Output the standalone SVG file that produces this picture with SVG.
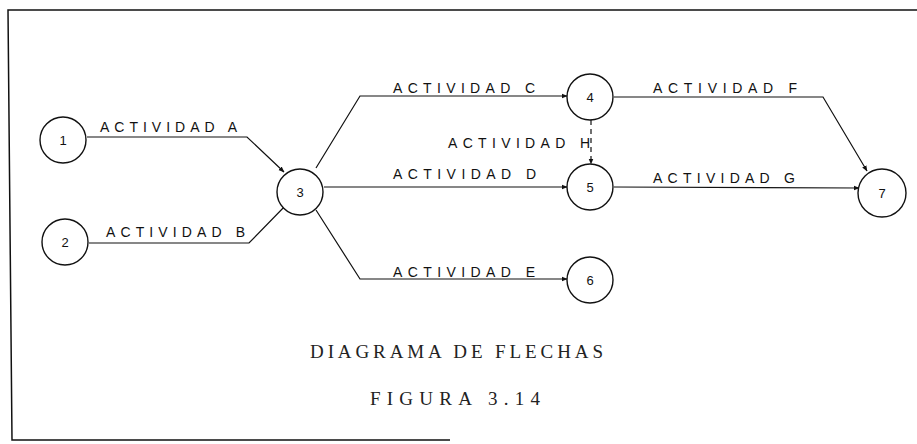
<svg xmlns="http://www.w3.org/2000/svg" width="917" height="444" viewBox="0 0 917 444">
<style>
.frame{fill:none;stroke:#111;stroke-width:1.5}
.node circle{fill:#fff;stroke:#111;stroke-width:1.4}
.node text{font-family:"Liberation Sans",Arial,sans-serif;font-size:13px;fill:#111;text-anchor:middle}
.edge{fill:none;stroke:#111;stroke-width:1.2;marker-end:url(#arr)}
.dash{stroke-dasharray:5 4}
.lbl{font-family:"Liberation Sans",Arial,sans-serif;font-size:14px;fill:#111}
.title{font-family:"Liberation Serif","Times New Roman",serif;font-size:19px;fill:#222}
</style>
<defs>
<marker id="arr" viewBox="0 0 10 10" refX="9" refY="5" markerWidth="6" markerHeight="6" markerUnits="userSpaceOnUse" orient="auto">
<path d="M0,1 L10,5 L0,9 z" fill="#111"/>
</marker>
</defs>
<g id="frame">
<path class="frame" d="M917,10 L8,10 L12,440 L450,440"/>
</g>
<g id="connectors">
<path class="edge" d="M87,137 L247,137 L284,172"/>
<path class="edge" d="M89,243 L249,243 L287,204"/>
<path class="edge" d="M316,168 L360,96 L567,96"/>
<path class="edge" d="M324,187 L567,187"/>
<path class="edge" d="M316,210 L360,279 L567,279"/>
<path class="edge" d="M614,97 L823,97 L867,171"/>
<path class="edge" d="M614,187 L859,188"/>
<path class="edge dash" d="M591,120 L591,164"/>
<text class="lbl" x="100" y="132" textLength="137" lengthAdjust="spacing">ACTIVIDAD A</text>
<text class="lbl" x="106" y="237" textLength="139" lengthAdjust="spacing">ACTIVIDAD B</text>
<text class="lbl" x="393" y="93" textLength="142" lengthAdjust="spacing">ACTIVIDAD C</text>
<text class="lbl" x="393" y="179" textLength="143" lengthAdjust="spacing">ACTIVIDAD D</text>
<text class="lbl" x="393" y="277" textLength="142" lengthAdjust="spacing">ACTIVIDAD E</text>
<text class="lbl" x="653" y="93" textLength="144" lengthAdjust="spacing">ACTIVIDAD F</text>
<text class="lbl" x="653" y="183" textLength="142" lengthAdjust="spacing">ACTIVIDAD G</text>
<text class="lbl" x="448" y="148" textLength="142" lengthAdjust="spacing">ACTIVIDAD H</text>
</g>
<g id="n1" class="node"><circle cx="63" cy="140" r="23"/><text x="63" y="145">1</text></g>
<g id="n2" class="node"><circle cx="65" cy="242" r="23"/><text x="65" y="247">2</text></g>
<g id="n3" class="node"><circle cx="300" cy="192" r="23"/><text x="300" y="197">3</text></g>
<g id="n4" class="node"><circle cx="590" cy="97" r="23"/><text x="590" y="102">4</text></g>
<g id="n5" class="node"><circle cx="590" cy="187" r="23"/><text x="590" y="192">5</text></g>
<g id="n6" class="node"><circle cx="590" cy="280" r="23"/><text x="590" y="285">6</text></g>
<g id="n7" class="node"><circle cx="882" cy="193" r="24"/><text x="882" y="198">7</text></g>
<g id="captions">
<text class="title" x="310" y="358" textLength="293" lengthAdjust="spacing">DIAGRAMA DE FLECHAS</text>
<text class="title" x="370" y="405" textLength="170" lengthAdjust="spacing">FIGURA 3.14</text>
</g>
</svg>
